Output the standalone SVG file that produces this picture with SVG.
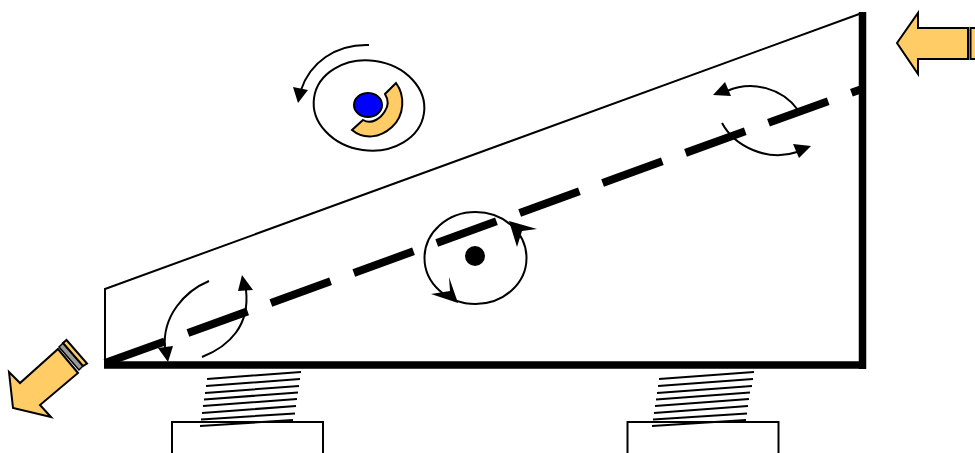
<svg xmlns="http://www.w3.org/2000/svg" width="975" height="453" viewBox="0 0 975 453">
<style>
.thin{fill:none;stroke:#000;stroke-width:2}
.head{fill:#000;stroke:none}
.orange{fill:#ffcc66;stroke:#000;stroke-width:2;stroke-linejoin:miter}
.coil{fill:none;stroke:#000;stroke-width:2}
.base{fill:#fff;stroke:#000;stroke-width:2}
</style>
<g id="feed-arrow">
<polygon class="orange" points="897,43 918,13 918,28 968,28 968,59 918,59 918,74"/>
<rect class="orange" x="970.5" y="28" width="10" height="31"/>
</g>
<g id="discharge-arrow">
<polygon class="orange" points="13,408 9,372 20,383 58,349 78,373 40,405 51,417"/>
<polygon points="59,347 63,343 83,366 79,370" fill="#999" stroke="#000" stroke-width="1.500"/>
<polygon class="orange" points="63,343 66.500,340 87,363.500 83,366" stroke-width="1.500"/>
</g>
<g id="base-left"><rect class="base" x="172" y="422" width="151" height="40"/></g>
<g id="base-right"><rect class="base" x="627.500" y="422" width="151" height="40"/></g>
<g id="spring-left">
<path class="coil" d="M207,379 301,372M206,386 300,379M205,393 299,386M204,399.500 298,392.500M203,406 297,399M202,413 296,406M201,419.500 295,413.500M200,426 293,420"/>
</g>
<g id="spring-right">
<path class="coil" d="M659,379 754,372M658,386 753,379M657,393 752,386M656,399.500 750,392.500M655,406 749,399M654,413 748,406M653,419.500 747,413.500M652,426 746,420"/>
</g>
<g id="deck">
<path class="thin" d="M105,363V289L862,13"/>
<path fill="none" stroke="#000" stroke-width="7.500" d="M104,365H866M862.500,12V369"/>
</g>
<g id="screen">
<path fill="none" stroke="#000" stroke-width="8" stroke-dasharray="63.500 24.700" d="M105,363 862,89"/>
</g>
<g id="drive">
<ellipse class="thin" cx="369" cy="105.500" rx="55.500" ry="45" transform="rotate(8 369 105.500)"/>
<path class="orange" d="M396,83C405,95 405,115 392,127C380,138 364,140 352,130L363,120C372,125 381,118 385,111C389,105 388,99 385,94Z"/>
<ellipse cx="368" cy="105" rx="14" ry="12" fill="#0000ff" stroke="#000" stroke-width="2"/>
</g>
<g id="connectors">
<path class="thin" d="M369,45C335,44 310,63 301,90"/>
<polygon class="head" points="293,87 308,90 298,103"/>
<ellipse class="thin" cx="475.500" cy="258" rx="51" ry="46"/>
<circle cx="475" cy="256" r="10" fill="#000"/>
<polygon class="head" points="509,221 537,229 522,231 517,247"/>
<polygon class="head" points="458,303 449,277 450,291 431,294"/>
<path class="thin" d="M798,110C782,88 752,80 727,91"/>
<polygon class="head" points="713,95 725,82 731,96"/>
<path class="thin" d="M722,123C735,147 768,162 797,152"/>
<polygon class="head" points="811,146 793,144 799,158"/>
<path class="thin" d="M209,281C185,291 162,316 165,348"/>
<polygon class="head" points="158,348 173,346 168,362"/>
<path class="thin" d="M202,357C230,346 250,325 246,290"/>
<polygon class="head" points="242,275 253,290 238,291"/>
</g>
</svg>
